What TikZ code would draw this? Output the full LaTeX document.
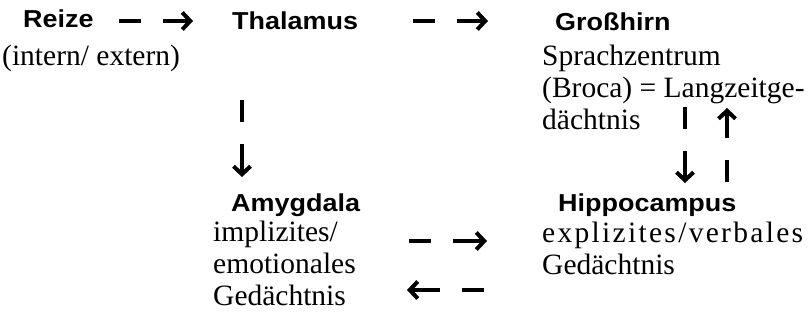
\documentclass[tikz,border=0pt]{standalone}
\usepackage{fontspec}
\setmainfont{Liberation Serif}
\newfontfamily\headfont[FakeStretch=1.1]{Liberation Sans}
\usetikzlibrary{arrows.meta}

\begin{document}
\begin{tikzpicture}[
  x=1pt, y=-1pt,
  head/.style={anchor=base west, inner sep=0pt, font=\headfont\bfseries\fontsize{24.5}{28}\selectfont},
  txt/.style={anchor=base west, inner sep=0pt, align=left, font=\fontsize{29.5}{32}\selectfont},
  flow/.style={line width=4pt, dash pattern=on 22pt off 22pt on 300pt,
    -{Straight Barb[length=8pt,width=17pt]}}
]
\useasboundingbox (0,0) rectangle (808,321);

% --- top row ---
\node[head] (reize) at (23,28) {Reize};
\node[txt] (quelle) at (2,66) {(intern/ extern)};
\node[head] (thalamus) at (232,30) {Thalamus};
\node[head] (grosshirn) at (555,31) {Großhirn};
% multi-line texts sit on the baseline of their last line
\node[txt] (broca) at (542,129) {Sprachzentrum\\(Broca) = Langzeitge-\\dächtnis};

% --- bottom row ---
\node[head] (amygdala) at (231,211) {Amygdala};
\node[txt] (implizit) at (213,305) {implizites/\\emotionales\\Gedächtnis};
\node[head] (hippo) at (558,211) {Hippocampus};
\node[txt] (explizit) at (542,274) {{\addfontfeatures{LetterSpace=7.8}explizites/verbales}\\Gedächtnis};

% --- arrow ends ---
\coordinate (reize-out) at (119,21);
\coordinate (thal-in) at (193,21);
\coordinate (thal-out) at (413,21);
\coordinate (gross-in) at (488,21);
\coordinate (thal-down) at (242,100);
\coordinate (amyg-in) at (242,177);
\coordinate (gross-down) at (685,107);
\coordinate (hippo-in) at (685,183);
\coordinate (hippo-up) at (727,182);
\coordinate (gross-back) at (727,108);
\coordinate (amyg-out) at (409,241);
\coordinate (hippo-from) at (487,241);
\coordinate (hippo-out) at (484,290);
\coordinate (amyg-back) at (407,290);

\draw[flow] (reize-out) -- (thal-in);
\draw[flow] (thal-out) -- (gross-in);
\draw[flow] (thal-down) -- (amyg-in);
\draw[flow] (gross-down) -- (hippo-in);
\draw[flow] (hippo-up) -- (gross-back);
\draw[flow] (amyg-out) -- (hippo-from);
\draw[flow] (hippo-out) -- (amyg-back);

\end{tikzpicture}
\end{document}
